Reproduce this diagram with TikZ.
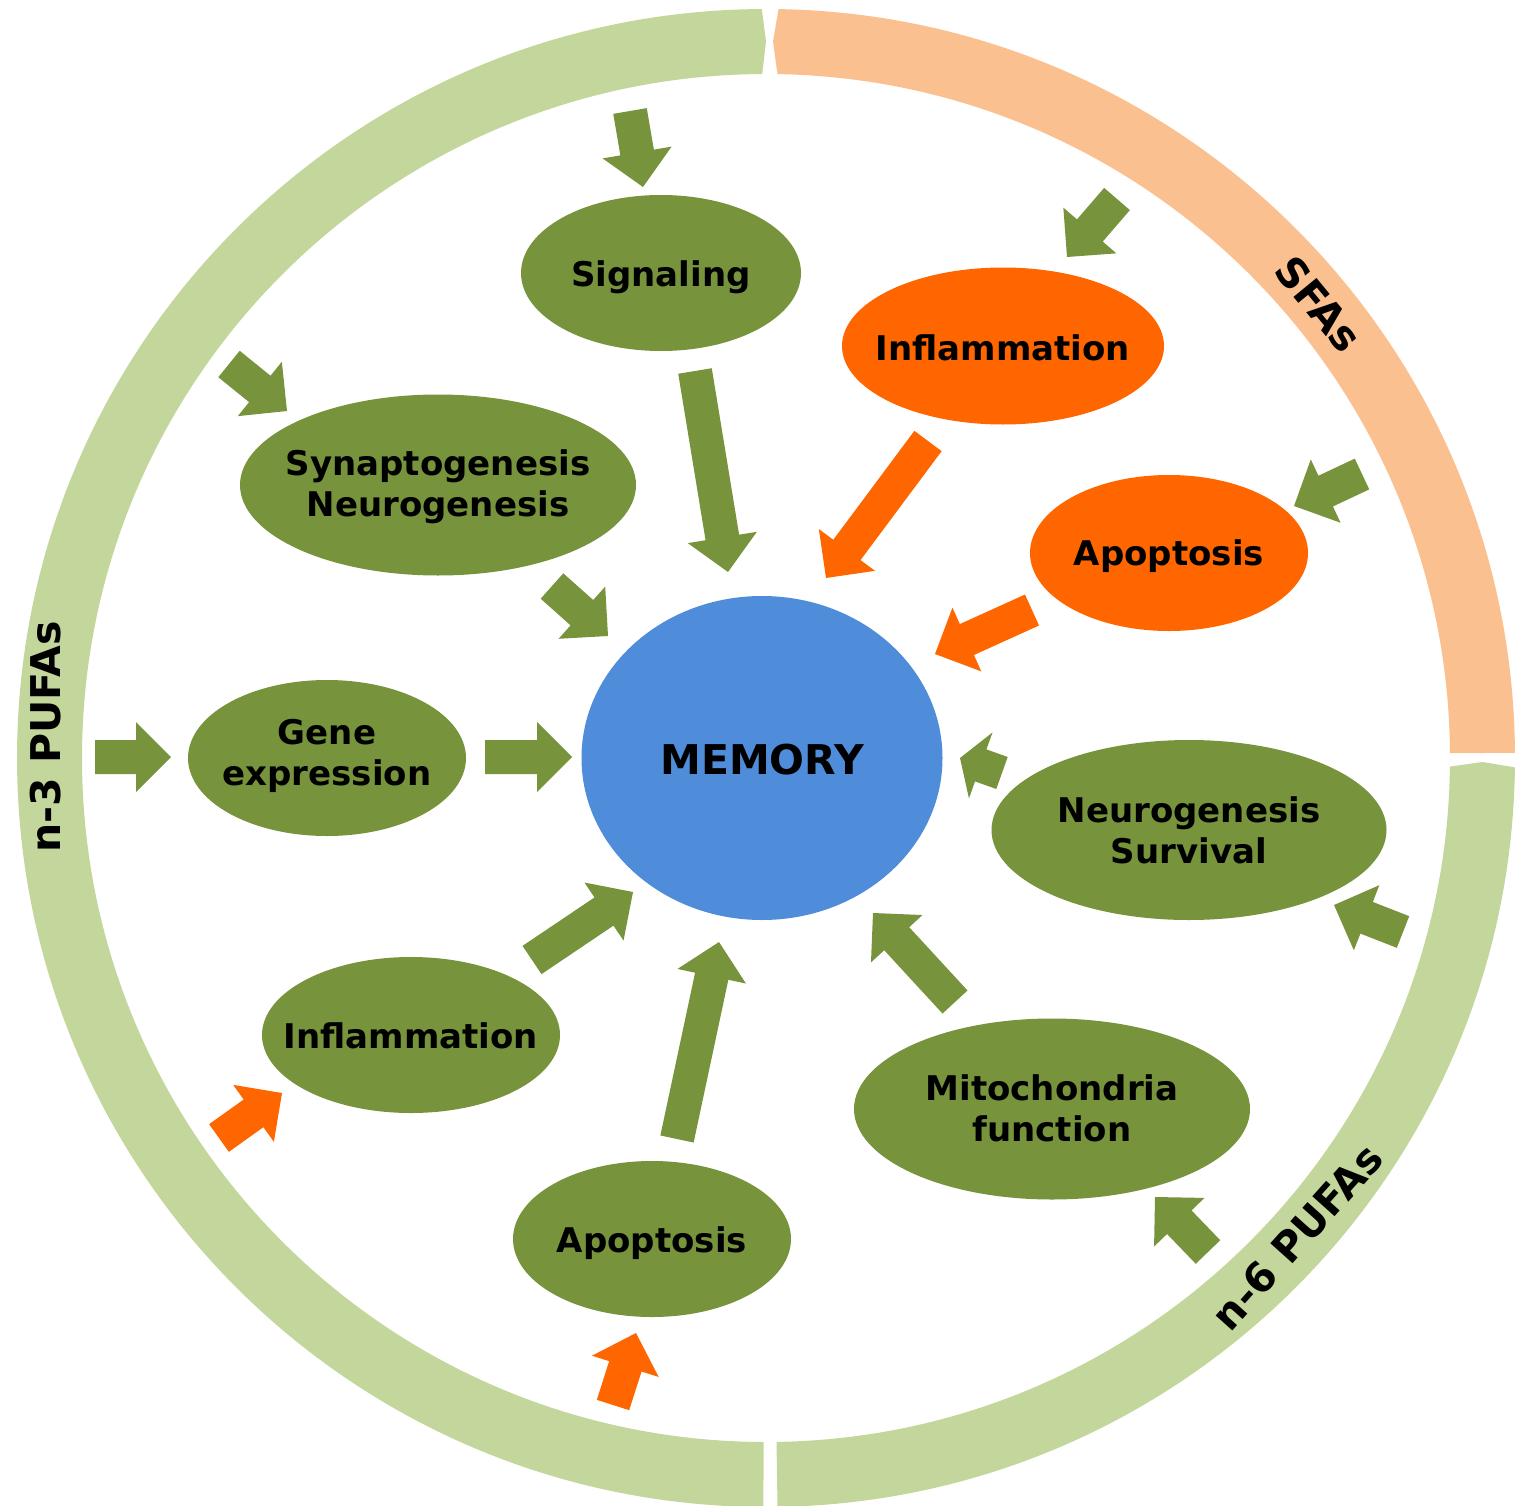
\documentclass[tikz,border=0pt]{standalone}
\usepackage{fontspec}
\setmainfont{DejaVu Sans}
\usetikzlibrary{calc,shapes.geometric}
\definecolor{dkgreen}{HTML}{77933C}
\definecolor{ltgreen}{HTML}{C3D69B}
\definecolor{ltorange}{HTML}{FAC090}
\definecolor{orng}{HTML}{FF6600}
\definecolor{memblue}{HTML}{4F8DDA}
% block arrow: [head length]{colour}{tail}{tip}
\newcommand\blockarrow[4][35pt]{%
  \coordinate (#3-hb) at ($(#4)!#1!(#3)$);
  \fill[#2] ($(#3)!17pt!90:(#4)$) -- ($(#3-hb)!17pt!90:(#4)$) -- ($(#3-hb)!35pt!90:(#4)$)
    -- (#4) -- ($(#3-hb)!35pt!-90:(#4)$) -- ($(#3-hb)!17pt!-90:(#4)$) -- ($(#3)!17pt!-90:(#4)$) -- cycle;}
\begin{document}
\begin{tikzpicture}[x=1pt,y=-1pt,
  bub/.style={ellipse, inner sep=0pt},
  gbub/.style={bub, fill=dkgreen},
  obub/.style={bub, fill=orng},
  btext/.style={inner sep=0pt, align=center, font=\fontsize{34}{41}\selectfont\bfseries, text=black},
  ringlabel/.style={font=\fontsize{41}{41}\selectfont\bfseries, inner sep=0pt, text=black}
]
\useasboundingbox (0,0) rectangle (1533,1506);
% ring
\begin{scope}[shift={(766,758)}, yscale=-1]
  \fill[ltgreen] (90.32:749) arc[start angle=90.32, end angle=269.8, radius=749]
    -- (269.8:684) arc[start angle=269.8, end angle=90.32, radius=684] -- (90:716.5) -- cycle;
  \fill[ltorange] (89.04:749) arc[start angle=89.04, end angle=0.4, radius=749]
    -- (0.4:684) arc[start angle=0.4, end angle=89.04, radius=684] -- (89.44:716.5) -- cycle;
  \fill[ltgreen] (-0.72:749) arc[start angle=-0.72, end angle=-89.12, radius=749]
    -- (-89.12:684) arc[start angle=-89.12, end angle=-0.72, radius=684] -- (-0.32:716.5) -- cycle;
\end{scope}
\node[ringlabel, rotate=90] (n3) at (46,737) {n-3 PUFAs};
\node[ringlabel, rotate=-50.6] (sfa) at (1319,304) {SFAs};
\node[ringlabel, rotate=48.1] (n6) at (1297,1237) {n-6 PUFAs};
% arrow end points
\coordinate (t1) at (630,111);  \coordinate (h1) at (643,187);
\coordinate (t2) at (695,371);  \coordinate (h2) at (728,572);
\coordinate (t3) at (928,441);  \coordinate (h3) at (826,578);
\coordinate (t4) at (1032,610); \coordinate (h4) at (935,654);
\coordinate (t5) at (1002,773); \coordinate (h5) at (960,758);
\coordinate (t6) at (552,586);  \coordinate (h6) at (608,636);
\coordinate (t7) at (229,364);  \coordinate (h7) at (287,411);
\coordinate (t8) at (95,757);   \coordinate (h8) at (171,757);
\coordinate (t9) at (485,757);  \coordinate (h9) at (572,757);
\coordinate (t10) at (1117,199); \coordinate (h10) at (1067,257);
\coordinate (t11) at (1362,474); \coordinate (h11) at (1294,506);
\coordinate (t12) at (1403,932); \coordinate (h12) at (1334,905);
\coordinate (t13) at (1208,1252); \coordinate (h13) at (1155,1197);
\coordinate (t14) at (955,1002); \coordinate (h14) at (873,913);
\coordinate (t15) at (532,960);  \coordinate (h15) at (633,892);
\coordinate (t16) at (677,1139); \coordinate (h16) at (719,942);
\coordinate (t17) at (219,1138); \coordinate (h17) at (282,1093);
\coordinate (t18) at (613,1405); \coordinate (h18) at (636,1333);
\blockarrow{dkgreen}{t1}{h1}
\blockarrow{dkgreen}{t2}{h2}
\blockarrow{orng}{t3}{h3}
\blockarrow{orng}{t4}{h4}
\blockarrow[22pt]{dkgreen}{t5}{h5}
\blockarrow{dkgreen}{t6}{h6}
\blockarrow{dkgreen}{t7}{h7}
\blockarrow{dkgreen}{t8}{h8}
\blockarrow{dkgreen}{t9}{h9}
\blockarrow{dkgreen}{t10}{h10}
\blockarrow{dkgreen}{t11}{h11}
\blockarrow{dkgreen}{t12}{h12}
\blockarrow{dkgreen}{t13}{h13}
\blockarrow{dkgreen}{t14}{h14}
\blockarrow{dkgreen}{t15}{h15}
\blockarrow{dkgreen}{t16}{h16}
\blockarrow{orng}{t17}{h17}
\blockarrow{orng}{t18}{h18}
% ellipses
\node[gbub, minimum width=280pt, minimum height=156pt] (sig) at (661,273) {};
\node[obub, minimum width=322pt, minimum height=157pt] (inflo) at (1003,346) {};
\node[gbub, minimum width=396pt, minimum height=181pt] (syn) at (438,485) {};
\node[obub, minimum width=278pt, minimum height=156pt] (apoo) at (1169,553) {};
\node[gbub, minimum width=278pt, minimum height=156pt] (gene) at (327,758) {};
\node[gbub, minimum width=395pt, minimum height=180pt] (neuro) at (1189,830) {};
\node[gbub, minimum width=298pt, minimum height=156pt] (inflg) at (411,1035) {};
\node[gbub, minimum width=396pt, minimum height=181pt] (mito) at (1052,1109) {};
\node[gbub, minimum width=278pt, minimum height=156pt] (apog) at (652,1239) {};
\node[ellipse, fill=memblue, inner sep=0pt, minimum width=361pt, minimum height=324pt] (mem) at (762,758) {};
% texts
\node[btext] (sigt) at ([yshift=-4pt]sig.center) {Signaling};
\node[btext] (inflot) at ([yshift=-2pt]inflo.center) {Inflammation};
\node[btext] (synt) at ([yshift=-2pt]syn.center) {Synaptogenesis\\Neurogenesis};
\node[btext] (apoot) at ([yshift=-3pt]apoo.center) {Apoptosis};
\node[btext] (genet) at ([yshift=2pt]gene.center) {Gene\\expression};
\node[btext] (neurot) at (neuro.center) {Neurogenesis\\Survival};
\node[btext] (inflgt) at ([yshift=-1pt]inflg.center) {Inflammation};
\node[btext] (mitot) at ([yshift=1pt]mito.center) {Mitochondria\\function};
\node[btext] (apogt) at ([yshift=-4pt]apog.center) {Apoptosis};
\node[inner sep=0pt, font=\fontsize{41}{41}\selectfont\bfseries] (memt) at ([yshift=-2pt]mem.center) {MEMORY};
\end{tikzpicture}
\end{document}
